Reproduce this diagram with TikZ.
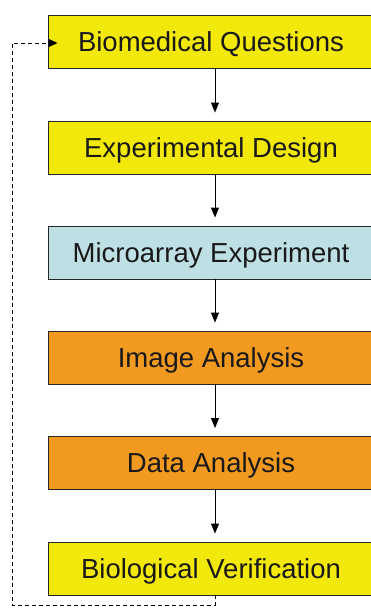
\documentclass[tikz,border=0pt]{standalone}
\usepackage{fontspec}
\setmainfont{Liberation Sans}
\usetikzlibrary{arrows.meta}
\definecolor{stageyellow}{HTML}{F2E80A}
\definecolor{stageblue}{HTML}{BEE0E4}
\definecolor{stageorange}{HTML}{F29A1F}
\tikzset{
  stagebox/.style={draw=black!85, line width=0.9pt, minimum width=326pt,
    minimum height=53pt, inner sep=0pt, text height=19.7pt, text depth=0pt,
    font=\fontsize{27.5}{30}\selectfont, text=black!90},
  flow/.style={draw=black, line width=1pt,
    -{Triangle[length=10pt,width=8pt]}, shorten >=8pt},
  loopback/.style={draw=black, line width=0.9pt, dash pattern=on 4pt off 3pt},
}
\begin{document}
\begin{tikzpicture}[x=1pt,y=-1pt]
\useasboundingbox (0,0) rectangle (371,608);
\clip (0,0) rectangle (371,608);
\node[stagebox, fill=stageyellow] (q) at (211,41.5) {Biomedical Questions};
\node[stagebox, fill=stageyellow] (d) at (211,147.5) {Experimental Design};
\node[stagebox, fill=stageblue]   (m) at (211,252.5) {Microarray Experiment};
\node[stagebox, fill=stageorange] (i) at (211,357.5) {Image Analysis};
\node[stagebox, fill=stageorange] (a) at (211,463) {Data Analysis};
\node[stagebox, fill=stageyellow] (v) at (211,568.5) {Biological Verification};
\foreach \s/\t in {q/d,d/m,m/i,i/a,a/v}
  \draw[flow] (\s.south -| 215,0) -- (\t.north -| 215,0);
\coordinate (vb) at (215,605);
\coordinate (lb) at (12,605);
\coordinate (lt) at (12,43);
\draw[loopback] (v.south -| 215,0) -- (vb) -- (lb) -- (lt)
  -- ([xshift=1pt]lt -| q.west);
\draw[loopback, solid, -{Triangle[length=9pt,width=8pt]}]
  ([xshift=1pt]lt -| q.west) -- ([xshift=10pt]lt -| q.west);
\end{tikzpicture}
\end{document}
